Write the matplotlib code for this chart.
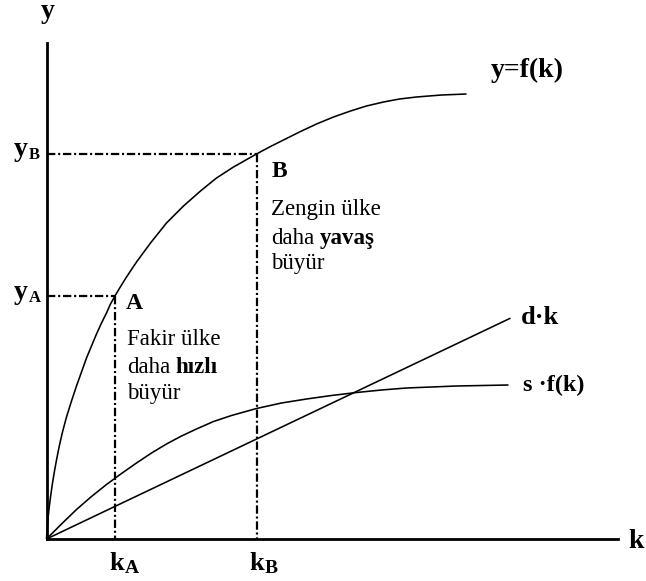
import matplotlib
matplotlib.use("Agg")
import matplotlib.pyplot as plt
from matplotlib.transforms import Affine2D

plt.rcParams['font.family'] = ['Liberation Serif', 'DejaVu Serif']
plt.rcParams['lines.scale_dashes'] = False

# ---- data ----
k_f = [0, 0.5, 1.5, 2.5, 4, 6, 8, 10, 13, 16, 20, 25, 30, 35, 40, 45, 50, 55,
       60, 64, 69, 75, 80, 90, 104, 120, 137, 154, 170, 187, 210, 223, 237,
       253, 270, 287, 304, 320, 337, 353, 370, 395, 420]
y_f = [0, 9, 20, 30, 42, 56, 68, 79, 94, 107, 122, 138, 153, 167, 181, 193,
       205, 216, 226, 235, 244, 254, 262, 277, 296, 316, 333, 348, 361, 372,
       385, 392, 399, 407, 415, 422, 428, 433, 437, 440, 442, 444, 445]

k_sf = [0, 15, 30, 45, 60, 75, 90, 105, 120, 135, 150, 167, 185, 210, 235,
        260, 285, 310, 335, 360, 410, 462]
y_sf = [0, 15, 29.5, 42.5, 54.5, 65.5, 76, 86, 95, 103, 110, 117.5, 123.5,
        130.5, 136, 140, 143.5, 146.5, 149, 151, 153, 154]

d_rate = 0.476
k_dk = [0, 464]
y_dk = [d_rate * k for k in k_dk]

kA, yA = 68.5, 243
kB, yB = 210, 385

x_max, y_max = 571, 496

W, H = 646, 581
fig = plt.figure(figsize=(W / 100, H / 100), dpi=100)
ax = fig.add_axes([46.5 / W, (H - 539) / H, x_max / W, y_max / H])
ax.set_xlim(0, x_max)
ax.set_ylim(0, y_max)
for s in ['top', 'right']:
    ax.spines[s].set_visible(False)
for s in ['left', 'bottom']:
    ax.spines[s].set_linewidth(2.0)
ax.set_xticks([])
ax.set_yticks([])
ax.patch.set_alpha(0)

lw = 1.15
for kx, yx in [(k_f, y_f), (k_sf, y_sf), (k_dk, y_dk)]:
    ax.plot(kx, yx, color='black', lw=lw, clip_on=False,
            solid_joinstyle='round', solid_capstyle='butt')

dash = (0, (6.0, 2.0, 1.5, 2.0))
for kk, yy in [(kA, yA), (kB, yB)]:
    ax.plot([0, kk], [yy, yy], color='black', lw=1.6, linestyle=dash)
    ax.plot([kk, kk], [yy, 0], color='black', lw=1.6, linestyle=dash)

# pixel transform (top-left origin)
pt = Affine2D().scale(1 / W, -1 / H).translate(0, 1) + fig.transFigure

def T(x, y, s, size, weight='normal', ha='left', va='baseline'):
    return fig.text(x, y, s, transform=pt, fontsize=size, fontweight=weight,
                    ha=ha, va=va, color='black')

T(48, 12, 'y', 20, 'bold', ha='center', va='center')
T(636, 541, 'k', 20, 'bold', ha='center', va='center')
T(527, 70, 'y=f(k)', 20, 'bold', ha='center', va='center')
T(521, 318, 'd·k', 19, 'bold', va='center')
T(523, 385, 's ·f(k)', 17.5, 'bold', va='center')

# axis value labels
T(14, 156, 'y', 20, 'bold')
T(29, 159, 'B', 12, 'bold')
T(14, 299, 'y', 20, 'bold')
T(29, 302, 'A', 12, 'bold')
T(109, 570, 'k', 19, 'bold')
T(125, 573, 'A', 14, 'bold')
T(249, 570, 'k', 19, 'bold')
T(265, 573, 'B', 14, 'bold')

# point labels
T(126, 309, 'A', 17, 'bold')
T(272, 177, 'B', 17, 'bold')

def mixed(x, y, normal, bold, size):
    t = T(x, y, normal, size, 'normal', va='bottom')
    fig.canvas.draw()
    ax.annotate(bold, xy=(1, 0), xycoords=t, xytext=(3.8, 0),
                textcoords='offset points', ha='left', va='bottom',
                fontsize=size, fontweight='bold', color='black',
                annotation_clip=False)

fs = 16.5
T(127, 345, 'Fakir ülke', fs)
mixed(127, 378, 'daha', 'hızlı', fs)
T(127, 399, 'büyür', fs)

T(271, 215, 'Zengin ülke', fs)
mixed(271, 249, 'daha', 'yavaş', fs)
T(271, 269, 'büyür', fs)

fig.savefig('out.png', dpi=100)
